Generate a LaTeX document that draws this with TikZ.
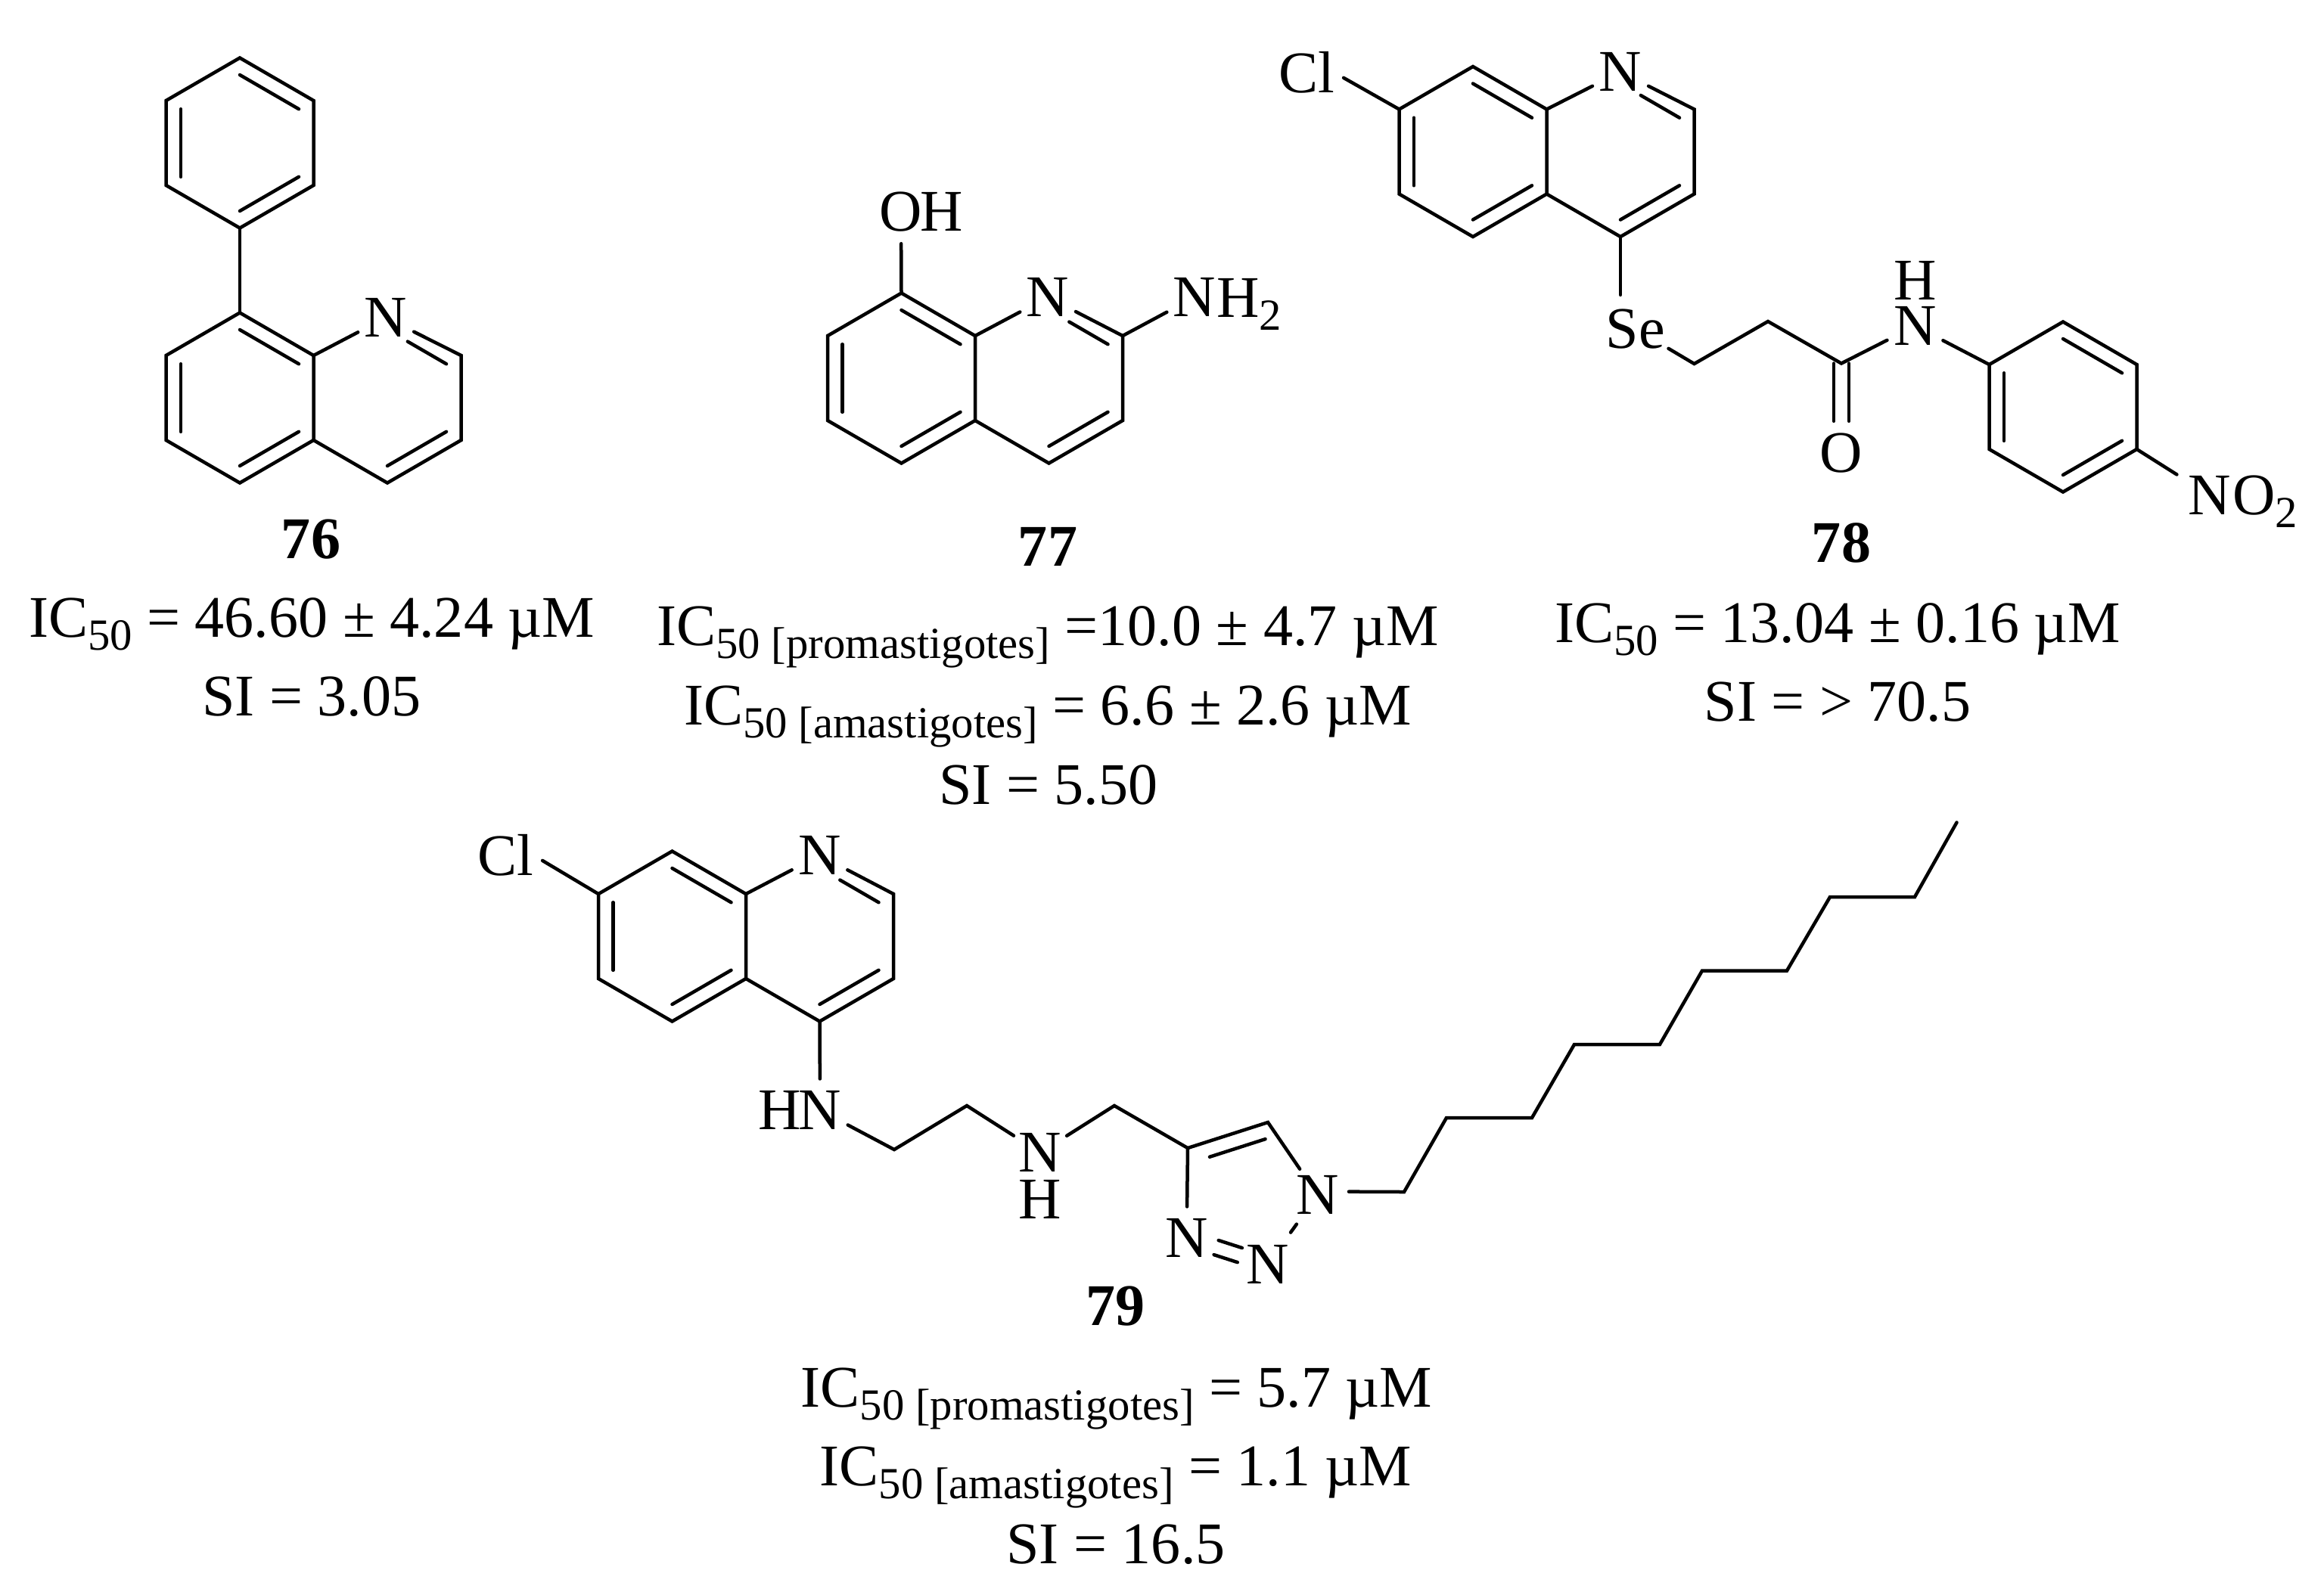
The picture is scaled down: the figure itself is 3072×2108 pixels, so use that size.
\documentclass[tikz,border=0pt]{standalone}
\usepackage{fontspec}
\setmainfont{Liberation Serif}
\usetikzlibrary{calc}
\newcommand{\molfont}{\fontsize{22.2}{26}\selectfont}
\newcommand{\sbs}[1]{\raisebox{-0.17cm}{\fontsize{16.7}{18}\selectfont #1}}
\newcommand{\ringpts}[3]{
  \coordinate (#1c) at (#2, #3);
  \foreach \v/\dx/\dy in {t/0/-112.5, ur/97.5/-56, lr/97.5/56, b/0/112.5, ll/-97.5/56, ul/-97.5/-56} {
    \coordinate (#1\v) at (#2+\dx, #3+\dy);
  }
}
\newcommand{\dbl}[4][]{\draw[#1] ($(#2)!0.2!(#4)$) -- ($(#3)!0.2!(#4)$);}
\newcommand{\benz}[1]{
  \draw (#1t) -- (#1ur) -- (#1lr) -- (#1b) -- (#1ll) -- (#1ul) -- cycle;
  \dbl{#1t}{#1ur}{#1c}
  \dbl{#1lr}{#1b}{#1c}
  \dbl{#1ll}{#1ul}{#1c}
}
\begin{document}
\begin{tikzpicture}[x=0.01cm, y=-0.01cm, line width=0.045cm, line cap=round,
    atom/.style={circle, inner sep=0.01cm, font=\molfont},
    lbl/.style={inner sep=0, anchor=base, font=\molfont},
    num/.style={lbl, font=\molfont\bfseries}]

  \useasboundingbox (0, 0) rectangle (3072, 2108);

  \ringpts{pa}{317}{189}
  \ringpts{pb}{317}{526}
  \ringpts{pc}{512}{526}
  \node[atom] (na) at (510, 420) {N};
  \benz{pa}
  \benz{pb}
  \draw (pab) -- (pbt);
  \draw (pbur) -- (na);
  \draw (na) -- (pcur) -- (pclr) -- (pcb) -- (pcll);
  \dbl[shorten <=0.31cm]{pct}{pcur}{pcc}
  \dbl{pclr}{pcb}{pcc}
  \node[num] (num76) at (411, 738) {76};
  \node[lbl] (ic76) at (412, 842) {IC\sbs{50} = 46.60 ± 4.24 µM};
  \node[lbl] (si76) at (412, 946) {SI = 3.05};

  \ringpts{qa}{1191.5}{500}
  \ringpts{qb}{1386.5}{500}
  \node[atom] (qo) at (1191, 280) {O};
  \node[lbl] (qh) at (1245, 305) {H};
  \node[atom] (nb) at (1385, 393) {N};
  \node[atom] (nc) at (1579, 393) {N};
  \node[lbl, anchor=base west] (nch) at (1606, 419) {H\sbs{2}};
  \benz{qa}
  \draw (qat) -- (qo);
  \draw (qaur) -- (nb);
  \draw (nb) -- (qbur) -- (qblr) -- (qbb) -- (qbll);
  \draw (qbur) -- (nc);
  \dbl[shorten <=0.31cm]{qbt}{qbur}{qbc}
  \dbl{qblr}{qbb}{qbc}
  \node[num] (num77) at (1385, 748) {77};
  \node[lbl] (ic77a) at (1385, 853) {IC\sbs{50 [promastigotes]} =10.0 ± 4.7 µM};
  \node[lbl] (ic77b) at (1385, 958) {IC\sbs{50 [amastigotes]} = 6.6 ± 2.6 µM};
  \node[lbl] (si77) at (1386, 1063) {SI = 5.50};

  \ringpts{ra}{1947}{200.5}
  \ringpts{rb}{2142}{200.5}
  \ringpts{rc}{2727}{538}
  \node[atom] (cla) at (1727, 96) {Cl};
  \node[atom] (nd) at (2142, 95) {N};
  \node[atom] (se) at (2162, 435) {Se};
  \node[atom] (ne) at (2531.5, 431) {N};
  \node[lbl] (neh) at (2531.5, 396) {H};
  \node[atom] (ro) at (2434, 599) {O};
  \node[atom] (nf) at (2921, 655) {N};
  \node[lbl, anchor=base west] (nfo) at (2949, 680) {O\sbs{2}};
  \coordinate (sa) at (2239.5, 481);
  \coordinate (sb) at (2337, 425);
  \coordinate (sc) at (2434, 480.5);
  \benz{ra}
  \benz{rc}
  \draw (cla.-8) -- (raul);
  \draw (raur) -- (nd);
  \draw (nd) -- (rbur) -- (rblr) -- (rbb) -- (rbll);
  \dbl[shorten <=0.31cm]{rbt}{rbur}{rbc}
  \dbl{rblr}{rbb}{rbc}
  \draw (rbb) -- (rbb |- se.117);
  \draw (se) -- (sa) -- (sb) -- (sc) -- (ne);
  \draw (ne) -- (rcul);
  \draw ([xshift=-0.1cm]sc) -- ([xshift=-0.1cm]ro.north);
  \draw ([xshift=0.1cm]sc) -- ([xshift=0.1cm]ro.north);
  \draw[shorten >=0.1cm] (rclr) -- (nf);
  \node[num] (num78) at (2434, 743) {78};
  \node[lbl] (ic78) at (2429, 849) {IC\sbs{50} = 13.04 ± 0.16 µM};
  \node[lbl] (si78) at (2429, 953) {SI = > 70.5};

  \ringpts{ta}{888.5}{1238}
  \ringpts{tb}{1083.5}{1238}
  \node[atom] (clb) at (668, 1131) {Cl};
  \node[atom] (ng) at (1083.5, 1131) {N};
  \node[atom] (nh) at (1084, 1468) {N};
  \node[lbl] (nhh) at (1031, 1493) {H};
  \node[atom] (ni) at (1375, 1524) {N};
  \node[lbl] (nih) at (1375, 1611) {H};
  \node[atom] (nj) at (1741.6, 1580) {N};
  \node[atom] (nk) at (1676, 1671.5) {N};
  \node[atom] (nl) at (1568.6, 1637) {N};
  \coordinate (ca) at (1182, 1520);
  \coordinate (cb) at (1278, 1462);
  \coordinate (cc) at (1473, 1462);
  \coordinate (tra) at (1570, 1518);
  \coordinate (trb) at (1676, 1484);
  \foreach \i/\px/\py in {1/1856/1576, 2/1912/1478, 3/2025/1478, 4/2081/1381, 5/2194/1381,
      6/2250/1283.5, 7/2362/1283.5, 8/2419/1186, 9/2531/1186, 10/2586.5/1087.5} {
    \coordinate (al\i) at (\px, \py);
  }
  \benz{ta}
  \draw (clb.-8) -- (taul);
  \draw (taur) -- (ng);
  \draw (ng) -- (tbur) -- (tblr) -- (tbb) -- (tbll);
  \dbl[shorten <=0.31cm]{tbt}{tbur}{tbc}
  \dbl{tblr}{tbb}{tbc}
  \draw (tbb) -- (nh);
  \draw (nh) -- (ca) -- (cb) -- (ni);
  \draw (ni) -- (cc) -- (tra) -- (trb) -- (nj);
  \draw (tra) -- (nl);
  \draw[shorten <=0.06cm, shorten >=0.1cm] (nj) -- (nk);
  \draw[shorten <=0.41cm, shorten >=0.39cm] ($(nl)!0.1cm!90:(nk)$) -- ($(nk)!0.1cm!-90:(nl)$);
  \draw[shorten <=0.41cm, shorten >=0.39cm] ($(nl)!0.1cm!-90:(nk)$) -- ($(nk)!0.1cm!90:(nl)$);
  \draw[shorten <=0.24cm, shorten >=0.1cm] ($(tra)!0.2cm!-90:(trb)$) -- ($(trb)!0.2cm!90:(tra)$);
  \draw (nj.6) -- (al1) -- (al2) -- (al3) -- (al4) -- (al5) -- (al6) -- (al7) -- (al8) -- (al9) -- (al10);
  \node[num] (num79) at (1474.5, 1752) {79};
  \node[lbl] (ic79a) at (1476, 1860) {IC\sbs{50 [promastigotes]} = 5.7 µM};
  \node[lbl] (ic79b) at (1475, 1964) {IC\sbs{50 [amastigotes]} = 1.1 µM};
  \node[lbl] (si79) at (1475, 2067) {SI = 16.5};

\end{tikzpicture}
\end{document}
